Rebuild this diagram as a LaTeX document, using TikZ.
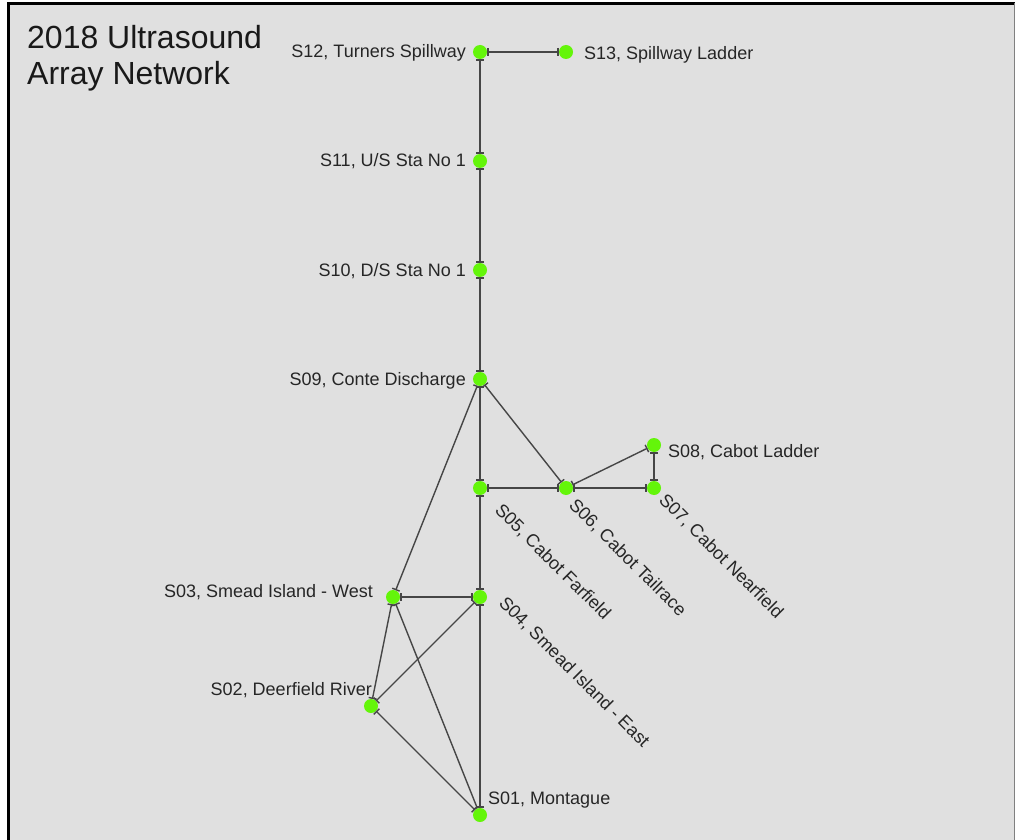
\documentclass[tikz,border=0pt]{standalone}
\usepackage{fontspec}
\setmainfont{Liberation Sans}
\usetikzlibrary{arrows.meta}
\definecolor{panelgray}{RGB}{224,224,224}
\definecolor{stationgreen}{RGB}{100,245,10}
\definecolor{linkgray}{RGB}{70,70,70}

\begin{document}
\begin{tikzpicture}[x=1pt, y=-1pt,
  station/.style={circle, fill=stationgreen, inner sep=0pt, minimum size=14pt},
  link/.style={draw=linkgray, line width=1.4pt, arrows={Bar[width=8pt]-Bar[width=8pt]}},
  lbl/.style={inner sep=0pt, text=black!85, font=\fontsize{18}{20}\selectfont},
  heading/.style={inner sep=0pt, align=left, text=black!90, font=\fontsize{32}{36}\selectfont}]
  \useasboundingbox (0,0) rectangle (1015,840);

  % Panel
  \fill[panelgray] (7,2) rectangle (1015,840);
  \draw[black, line width=2.5pt] (8.5,840) -- (8.5,3.5) -- (1015,3.5);
  \draw[gray, line width=1pt] (1014.5,3) -- (1014.5,840);

  \node[heading, anchor=north west] (title) at (27,25.6) {2018 Ultrasound\\Array Network};

  % Stations
  \node[station] (s12) at (480,52) {};
  \node[station] (s13) at (566,52) {};
  \node[station] (s11) at (480,161) {};
  \node[station] (s10) at (480,270) {};
  \node[station] (s09) at (480,379) {};
  \node[station] (s08) at (654,445) {};
  \node[station] (s05) at (480,488) {};
  \node[station] (s06) at (566,488) {};
  \node[station] (s07) at (654,488) {};
  \node[station] (s03) at (393,597) {};
  \node[station] (s04) at (480,597) {};
  \node[station] (s02) at (371,706) {};
  \node[station] (s01) at (480,815) {};

  % Links
  \draw[link] (s12) -- (s13);
  \draw[link] (s12) -- (s11);
  \draw[link] (s11) -- (s10);
  \draw[link] (s10) -- (s09);
  \draw[link] (s09) -- (s05);
  \draw[link] (s09) -- (s06);
  \draw[link] (s09) -- (s03);
  \draw[link] (s05) -- (s06);
  \draw[link] (s06) -- (s07);
  \draw[link] (s06) -- (s08);
  \draw[link] (s08) -- (s07);
  \draw[link] (s05) -- (s04);
  \draw[link] (s03) -- (s04);
  \draw[link] (s03) -- (s02);
  \draw[link] (s03) -- (s01);
  \draw[link] (s04) -- (s02);
  \draw[link] (s04) -- (s01);
  \draw[link] (s02) -- (s01);

  % Labels
  \node[lbl, anchor=base east] (l12) at (466,58) {S12, Turners Spillway};
  \node[lbl, anchor=base west] (l13) at (584,60) {S13, Spillway Ladder};
  \node[lbl, anchor=base east] (l11) at (466,167) {S11, U/S Sta No 1};
  \node[lbl, anchor=base east] (l10) at (466,276) {S10, D/S Sta No 1};
  \node[lbl, anchor=base east] (l09) at (466,385) {S09, Conte Discharge};
  \node[lbl, anchor=base west] (l08) at (668,457) {S08, Cabot Ladder};
  \node[lbl, anchor=base east] (l03) at (373,597) {S03, Smead Island - West};
  \node[lbl, anchor=base east] (l02) at (372,695) {S02, Deerfield River};
  \node[lbl, anchor=base west] (l01) at (488,804) {S01, Montague};
  \node[lbl, anchor=base west, rotate=-45] (l05) at (494,511) {S05, Cabot Farfield};
  \node[lbl, anchor=base west, rotate=-45] (l06) at (568,506) {S06, Cabot Tailrace};
  \node[lbl, anchor=base west, rotate=-45] (l07) at (658,501) {S07, Cabot Nearfield};
  \node[lbl, anchor=base west, rotate=-45] (l04) at (498,604) {S04, Smead Island - East};
\end{tikzpicture}
\end{document}
